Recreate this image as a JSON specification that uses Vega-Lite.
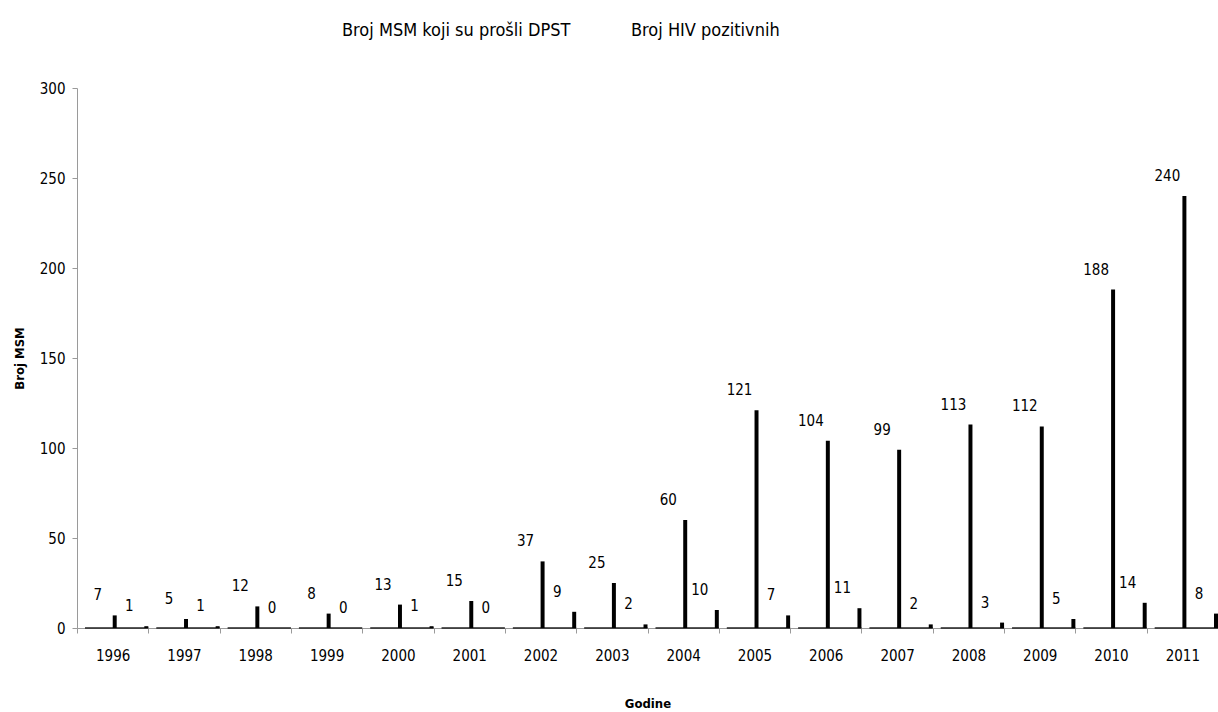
{
  "$schema": "https://vega.github.io/schema/vega-lite/v6.json",
  "width": 1141,
  "height": 540,
  "autosize": {"type": "none"},
  "padding": {"left": 77, "top": 88, "right": 0, "bottom": 84},
  "background": "white",
  "config": {
    "view": {"stroke": null},
    "font": "DejaVu Sans Condensed, DejaVu Sans",
    "text": {"font": "DejaVu Sans Condensed, DejaVu Sans"}
  },
  "data": {
    "values": [
      {"year": "1996", "series": "Broj MSM koji su prošli DPST", "value": 7},
      {"year": "1997", "series": "Broj MSM koji su prošli DPST", "value": 5},
      {"year": "1998", "series": "Broj MSM koji su prošli DPST", "value": 12},
      {"year": "1999", "series": "Broj MSM koji su prošli DPST", "value": 8},
      {"year": "2000", "series": "Broj MSM koji su prošli DPST", "value": 13},
      {"year": "2001", "series": "Broj MSM koji su prošli DPST", "value": 15},
      {"year": "2002", "series": "Broj MSM koji su prošli DPST", "value": 37},
      {"year": "2003", "series": "Broj MSM koji su prošli DPST", "value": 25},
      {"year": "2004", "series": "Broj MSM koji su prošli DPST", "value": 60},
      {"year": "2005", "series": "Broj MSM koji su prošli DPST", "value": 121},
      {"year": "2006", "series": "Broj MSM koji su prošli DPST", "value": 104},
      {"year": "2007", "series": "Broj MSM koji su prošli DPST", "value": 99},
      {"year": "2008", "series": "Broj MSM koji su prošli DPST", "value": 113},
      {"year": "2009", "series": "Broj MSM koji su prošli DPST", "value": 112},
      {"year": "2010", "series": "Broj MSM koji su prošli DPST", "value": 188},
      {"year": "2011", "series": "Broj MSM koji su prošli DPST", "value": 240},
      {"year": "1996", "series": "Broj HIV pozitivnih", "value": 1},
      {"year": "1997", "series": "Broj HIV pozitivnih", "value": 1},
      {"year": "1998", "series": "Broj HIV pozitivnih", "value": 0},
      {"year": "1999", "series": "Broj HIV pozitivnih", "value": 0},
      {"year": "2000", "series": "Broj HIV pozitivnih", "value": 1},
      {"year": "2001", "series": "Broj HIV pozitivnih", "value": 0},
      {"year": "2002", "series": "Broj HIV pozitivnih", "value": 9},
      {"year": "2003", "series": "Broj HIV pozitivnih", "value": 2},
      {"year": "2004", "series": "Broj HIV pozitivnih", "value": 10},
      {"year": "2005", "series": "Broj HIV pozitivnih", "value": 7},
      {"year": "2006", "series": "Broj HIV pozitivnih", "value": 11},
      {"year": "2007", "series": "Broj HIV pozitivnih", "value": 2},
      {"year": "2008", "series": "Broj HIV pozitivnih", "value": 3},
      {"year": "2009", "series": "Broj HIV pozitivnih", "value": 5},
      {"year": "2010", "series": "Broj HIV pozitivnih", "value": 14},
      {"year": "2011", "series": "Broj HIV pozitivnih", "value": 8}
    ]
  },
  "encoding": {
    "x": {
      "field": "year",
      "type": "ordinal",
      "scale": {"paddingInner": 0, "paddingOuter": 0},
      "axis": {
        "title": "Godine",
        "titleFont": "DejaVu Sans Condensed, DejaVu Sans",
        "titleFontSize": 13,
        "titleFontWeight": "bold",
        "titleColor": "black",
        "titlePadding": 34,
        "labelAngle": 0,
        "labelFontSize": 15,
        "labelFontWeight": "normal",
        "labelColor": "black",
        "labelPadding": 15,
        "domainColor": "#9a9a9a",
        "tickColor": "#9a9a9a",
        "tickSize": 5,
        "tickBand": "extent",
        "grid": false
      }
    },
    "y": {
      "field": "value",
      "type": "quantitative",
      "scale": {"domain": [0, 300], "nice": false},
      "axis": {
        "title": "Broj MSM",
        "titleFont": "DejaVu Sans Condensed, DejaVu Sans",
        "titleFontSize": 13,
        "titleFontWeight": "bold",
        "titleColor": "black",
        "titlePadding": 13,
        "values": [0, 50, 100, 150, 200, 250, 300],
        "labelFontSize": 15,
        "labelColor": "black",
        "labelPadding": 7,
        "domainColor": "#9a9a9a",
        "tickColor": "#9a9a9a",
        "tickSize": 5,
        "grid": false
      }
    }
  },
  "layer": [
    {
      "mark": {"type": "rule", "color": "#222222", "strokeWidth": 1.5},
      "transform": [{"filter": "datum.series === 'Broj HIV pozitivnih'"}],
      "encoding": {
        "x": {"field": "year", "type": "ordinal", "bandPosition": 0.112},
        "x2": {"field": "year", "bandPosition": 1},
        "y": {"datum": 0, "type": "quantitative"}
      }
    },
    {
      "mark": {"type": "bar"},
      "encoding": {
        "xOffset": {
          "field": "series",
          "type": "nominal",
          "sort": ["Broj MSM koji su prošli DPST", "Broj HIV pozitivnih"],
          "scale": {"domain": ["Broj MSM koji su prošli DPST", "Broj HIV pozitivnih"], "paddingInner": 0.874, "paddingOuter": 0.565, "align": 1}
        },
        "color": {
          "field": "series",
          "type": "nominal",
          "sort": ["Broj MSM koji su prošli DPST", "Broj HIV pozitivnih"],
          "scale": {"domain": ["Broj MSM koji su prošli DPST", "Broj HIV pozitivnih"], "range": ["black", "black"]},
          "legend": {
            "title": null,
            "orient": "none",
            "direction": "horizontal",
            "legendX": 247,
            "legendY": -66,
            "symbolSize": 0,
            "symbolOpacity": 0,
            "symbolStrokeWidth": 0,
            "labelOffset": 0,
            "labelFontSize": 18,
            "labelFont": "DejaVu Sans Condensed, DejaVu Sans",
            "labelColor": "black",
            "labelLimit": 400,
            "columnPadding": 42
          }
        }
      }
    },
    {
      "mark": {"type": "text", "dx": -17, "dy": -20, "baseline": "middle", "align": "center", "fontSize": 15, "color": "black"},
      "encoding": {
        "xOffset": {"field": "series", "type": "nominal", "sort": ["Broj MSM koji su prošli DPST", "Broj HIV pozitivnih"]},
        "text": {"field": "value", "type": "quantitative"}
      }
    }
  ]
}
